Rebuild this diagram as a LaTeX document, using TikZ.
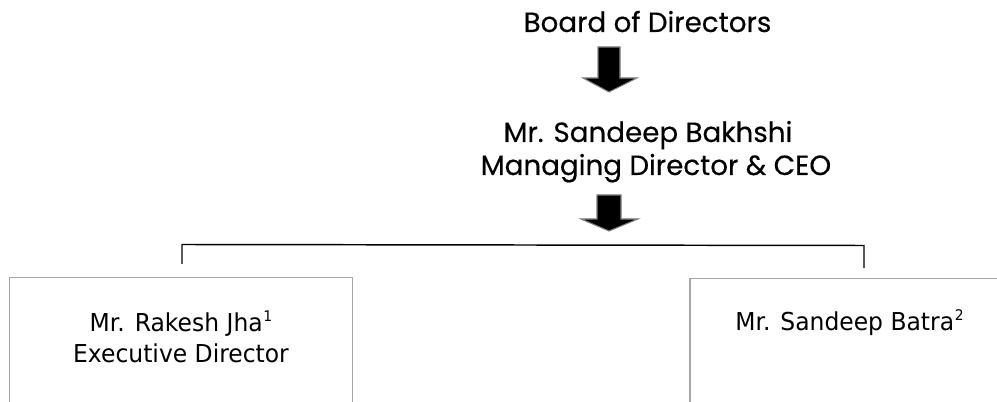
\documentclass[tikz,border=0pt]{standalone}
\usepackage{fontspec}
\setmainfont{Poppins}[FakeBold=0.4]
\newfontfamily\boxfont[FakeStretch=0.95]{DejaVu Sans}
\definecolor{boxgray}{HTML}{A6A6A6}
\definecolor{arrowedge}{HTML}{808080}
\newcommand{\supmark}[1]{\kern0.5pt\raisebox{0.42em}{\fontsize{11}{11}\selectfont #1}}
\begin{document}
\begin{tikzpicture}[x=0.75pt,y=-0.75pt,
  toptext/.style={inner sep=0pt, anchor=base, font=\fontsize{20.8}{24.75}\selectfont},
  lowtext/.style={inner sep=0pt, anchor=base, font=\boxfont\fontsize{18.5}{23.25}\selectfont},
  blockarrow/.style={fill=black, draw=arrowedge, line width=0.8pt, line join=miter},
  boxline/.style={draw=boxgray, line width=1pt},
  connector/.style={draw=black, line width=1.1pt}]
\useasboundingbox (0,0) rectangle (997,402);
% boxes
\draw[boxline] (9.7,420) -- (9.7,277.3) -- (352.7,277.3) -- (352.7,420);
\draw[boxline] (690,420) -- (690,278.7) -- (1010,278.7);
% texts
\node[toptext] (board) at (647.5,32) {Board of Directors};
\node[toptext] (ceo) at (656,142) {\begin{tabular}[t]{@{}c@{}}Mr. Sandeep Bakhshi\kern12pt\\Managing Director \& CEO\end{tabular}};
\node[lowtext] (jha) at (181,332) {\begin{tabular}[t]{@{}c@{}}Mr. Rakesh Jha\supmark{1}\\Executive Director\end{tabular}};
\node[lowtext] (batra) at (849.5,331) {Mr. Sandeep Batra\supmark{2}};
% block arrows
\draw[blockarrow] (598,47) -- (620,47) -- (620,78) -- (637,78) -- (609,92) -- (583,78) -- (598,78) -- cycle;
\draw[blockarrow] (597,195) -- (621,195) -- (621,219) -- (638,219) -- (609,231) -- (581,219) -- (597,219) -- cycle;
% connector
\coordinate (lbot) at (182,264);
\coordinate (ltop) at (182,244.5);
\coordinate (rtop) at (864,245.5);
\coordinate (rbot) at (864,268);
\draw[connector] (lbot) -- (ltop) -- (rtop) -- (rbot);
\end{tikzpicture}
\end{document}
